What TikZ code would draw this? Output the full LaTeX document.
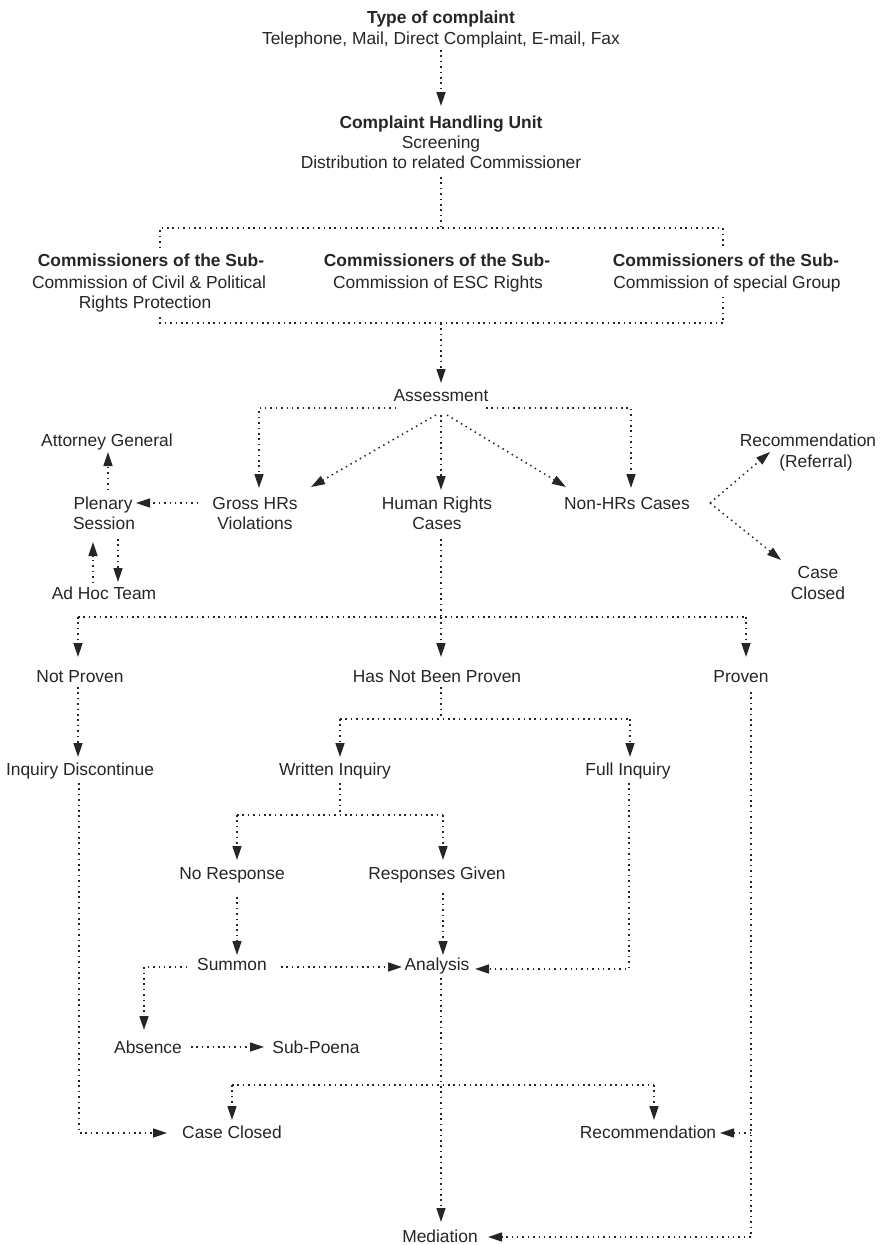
\documentclass[tikz,border=0pt]{standalone}
\usepackage{fontspec}
\setmainfont{Liberation Sans}
\usetikzlibrary{arrows.meta}
\definecolor{ink}{HTML}{262626}
\tikzset{
  lbl/.style={inner sep=0pt, text height=12.6pt, text depth=0pt, font=\fontsize{17.4}{21}\selectfont, text=ink},
  bl/.style={lbl, font=\fontsize{17.4}{21}\selectfont\bfseries},
  dl/.style={draw=ink, line width=1.5pt, dash pattern=on 1.5pt off 3.9pt},
  arr/.style={dl, -{Triangle[length=14pt,width=9pt]}}
}
\begin{document}
\begin{tikzpicture}[x=1pt,y=-1pt]
\fill[white] (0,0) rectangle (883,1245);
\useasboundingbox (0,0) rectangle (883,1245);
% nodes
\node[bl]  (typ)  at (441,17)  {Type of complaint};
\node[lbl] (tel)  at (441,38)  {Telephone, Mail, Direct Complaint, E-mail, Fax};
\node[bl]  (chu)  at (441,122) {Complaint Handling Unit};
\node[lbl] (scr)  at (441,142) {Screening};
\node[lbl] (dist) at (441,162) {Distribution to related Commissioner};
\node[bl]  (c1a)  at (151,260) {Commissioners of the Sub-};
\node[lbl] (c1b)  at (149,282) {Commission of Civil \& Political};
\node[lbl] (c1c)  at (145,302) {Rights Protection};
\node[bl]  (c2a)  at (437,260) {Commissioners of the Sub-};
\node[lbl] (c2b)  at (438,282) {Commission of ESC Rights};
\node[bl]  (c3a)  at (726,260) {Commissioners of the Sub-};
\node[lbl] (c3b)  at (727,282) {Commission of special Group};
\node[lbl] (ass)  at (441,395) {Assessment};
\node[lbl] (gross1) at (255,503) {Gross HRs};
\node[lbl] (gross2) at (255,523) {Violations};
\node[lbl] (hr1)  at (437,503) {Human Rights};
\node[lbl] (hr2)  at (437,523) {Cases};
\node[lbl] (non)  at (627,503) {Non-HRs Cases};
\node[lbl] (ple1) at (103,503) {Plenary};
\node[lbl] (ple2) at (104,523) {Session};
\node[lbl] (att)  at (107,440) {Attorney General};
\node[lbl] (adh)  at (104,593) {Ad Hoc Team};
\node[lbl] (rec1) at (808,440) {Recommendation};
\node[lbl] (rec2) at (816,461) {(Referral)};
\node[lbl] (cc1)  at (818,572) {Case};
\node[lbl] (cc2)  at (818,593) {Closed};
\node[lbl] (np)   at (80,676)  {Not Proven};
\node[lbl] (hnbp) at (437,676) {Has Not Been Proven};
\node[lbl] (pr)   at (741,676) {Proven};
\node[lbl] (id)   at (80,769)  {Inquiry Discontinue};
\node[lbl] (wi)   at (335,769) {Written Inquiry};
\node[lbl] (fi)   at (628,769) {Full Inquiry};
\node[lbl] (nr)   at (232,873) {No Response};
\node[lbl] (rg)   at (437,873) {Responses Given};
\node[lbl] (sum)  at (232,964) {Summon};
\node[lbl] (ana)  at (437,964) {Analysis};
\node[lbl] (abs)  at (148,1047) {Absence};
\node[lbl] (sub)  at (316,1047) {Sub-Poena};
\node[lbl] (ccl)  at (232,1132) {Case Closed};
\node[lbl] (rec)  at (648,1132) {Recommendation};
\node[lbl] (med)  at (440,1236) {Mediation};
% junction coordinates
\coordinate (j1) at (441,228);
\coordinate (c1t) at (160,248);
\coordinate (c3t) at (723,248);
\coordinate (c1bt) at (160,317);
\coordinate (c3bt) at (723,297);
\coordinate (j2) at (441,323);
\coordinate (j3) at (441,617);
\coordinate (j3l) at (78,617);
\coordinate (j3r) at (746,617);
\coordinate (j4) at (441,719);
\coordinate (j4l) at (340,719);
\coordinate (j4r) at (630,719);
\coordinate (j5) at (340,815);
\coordinate (j5l) at (237,815);
\coordinate (j5r) at (443,815);
\coordinate (j6l) at (232,1085);
\coordinate (j6r) at (654,1085);
\coordinate (pj) at (751,1133);
% connectors
\draw[arr] ([yshift=-12pt]tel.center) -- ([yshift=16pt]chu.center);
\draw[dl] ([yshift=-15pt]dist.center) -- (j1);
\draw[dl] (c1t) -- (c1t |- j1) -- (c3t |- j1) -- (c3t);
\draw[dl] (c1bt) -- (c1bt |- j2) -- (c3bt |- j2) -- (c3bt);
\draw[arr] (j2) -- ([yshift=12pt]ass.center);
\draw[arr] ([xshift=-45pt,yshift=-13pt]ass.center) -| ([xshift=4pt,yshift=15pt]gross1.center);
\draw[arr] ([xshift=45pt,yshift=-13pt]ass.center) -| ([xshift=4pt,yshift=15pt]non.center);
\draw[arr] ([xshift=-5pt,yshift=-20pt]ass.center) -- ([xshift=56pt,yshift=16pt]gross1.center);
\draw[arr] ([xshift=0pt,yshift=-20pt]ass.center) -- ([xshift=4pt,yshift=13pt]hr1.center);
\draw[arr] ([xshift=6pt,yshift=-20pt]ass.center) -- ([xshift=-61pt,yshift=16pt]non.center);
\draw[arr] ([xshift=-57pt]gross1.center) -- ([xshift=33pt]ple1.center);
\draw[arr] ([xshift=5pt,yshift=13pt]ple1.center) -- ([xshift=1pt,yshift=-12pt]att.center);
\draw[arr] ([xshift=14pt,yshift=-16pt]ple2.center) -- ([xshift=14pt,yshift=11pt]adh.center);
\draw[arr] ([xshift=-11pt,yshift=10pt]adh.center) -- ([xshift=-11pt,yshift=-19pt]ple2.center);
\draw[arr] ([xshift=83pt]non.center) -- ([xshift=-38pt,yshift=-12pt]rec1.center);
\draw[arr] ([xshift=83pt]non.center) -- ([xshift=-37pt,yshift=12pt]cc1.center);
\draw[dl] ([xshift=4pt,yshift=-16pt]hr2.center) -- (j3);
\draw[dl] (j3l) -- (j3r);
\draw[arr] (j3l) -- ([xshift=-2pt,yshift=19pt]np.center);
\draw[arr] (j3) -- ([xshift=4pt,yshift=19pt]hnbp.center);
\draw[arr] (j3r) -- ([xshift=5pt,yshift=19pt]pr.center);
\draw[arr] ([xshift=-2pt,yshift=-11pt]np.center) -- ([xshift=-2pt,yshift=12pt]id.center);
\draw[dl] ([xshift=4pt,yshift=-11pt]hnbp.center) -- (j4);
\draw[dl] (j4l) -- (j4r);
\draw[arr] (j4l) -- ([xshift=5pt,yshift=12pt]wi.center);
\draw[arr] (j4r) -- ([xshift=2pt,yshift=12pt]fi.center);
\draw[dl] ([xshift=5pt,yshift=-14pt]wi.center) -- (j5);
\draw[dl] (j5l) -- (j5r);
\draw[arr] (j5l) -- ([xshift=5pt,yshift=13pt]nr.center);
\draw[arr] (j5r) -- ([xshift=6pt,yshift=13pt]rg.center);
\draw[arr] ([xshift=5pt,yshift=-24pt]nr.center) -- ([xshift=5pt,yshift=9pt]sum.center);
\draw[arr] ([xshift=6pt,yshift=-20pt]rg.center) -- ([xshift=6pt,yshift=9pt]ana.center);
\draw[arr] ([xshift=-45pt,yshift=-3pt]sum.center) -| ([xshift=-4pt,yshift=17pt]abs.center);
\draw[arr] ([xshift=49pt,yshift=-3pt]sum.center) -- ([xshift=-35pt,yshift=-3pt]ana.center);
\draw[arr] ([xshift=1pt,yshift=-14pt]fi.center) |- ([xshift=38pt,yshift=-5pt]ana.center);
\draw[arr] ([xshift=43pt]abs.center) -- ([xshift=-52pt]sub.center);
\draw[arr] ([xshift=4pt,yshift=-14pt]ana.center) -- ([xshift=1pt,yshift=14pt]med.center);
\draw[dl] (j6l) -- (j6r);
\draw[arr] (j6l) -- ([yshift=12pt]ccl.center);
\draw[arr] (j6r) -- ([xshift=6pt,yshift=12pt]rec.center);
\draw[arr] ([xshift=-1pt,yshift=-14pt]id.center) |- ([xshift=-65pt,yshift=-1pt]ccl.center);
\draw[arr] ([xshift=10pt,yshift=-16pt]pr.center) |- ([xshift=48pt,yshift=-1pt]med.center);
\draw[arr] (pj) -- ([xshift=72pt,yshift=-1pt]rec.center);
\end{tikzpicture}
\end{document}
